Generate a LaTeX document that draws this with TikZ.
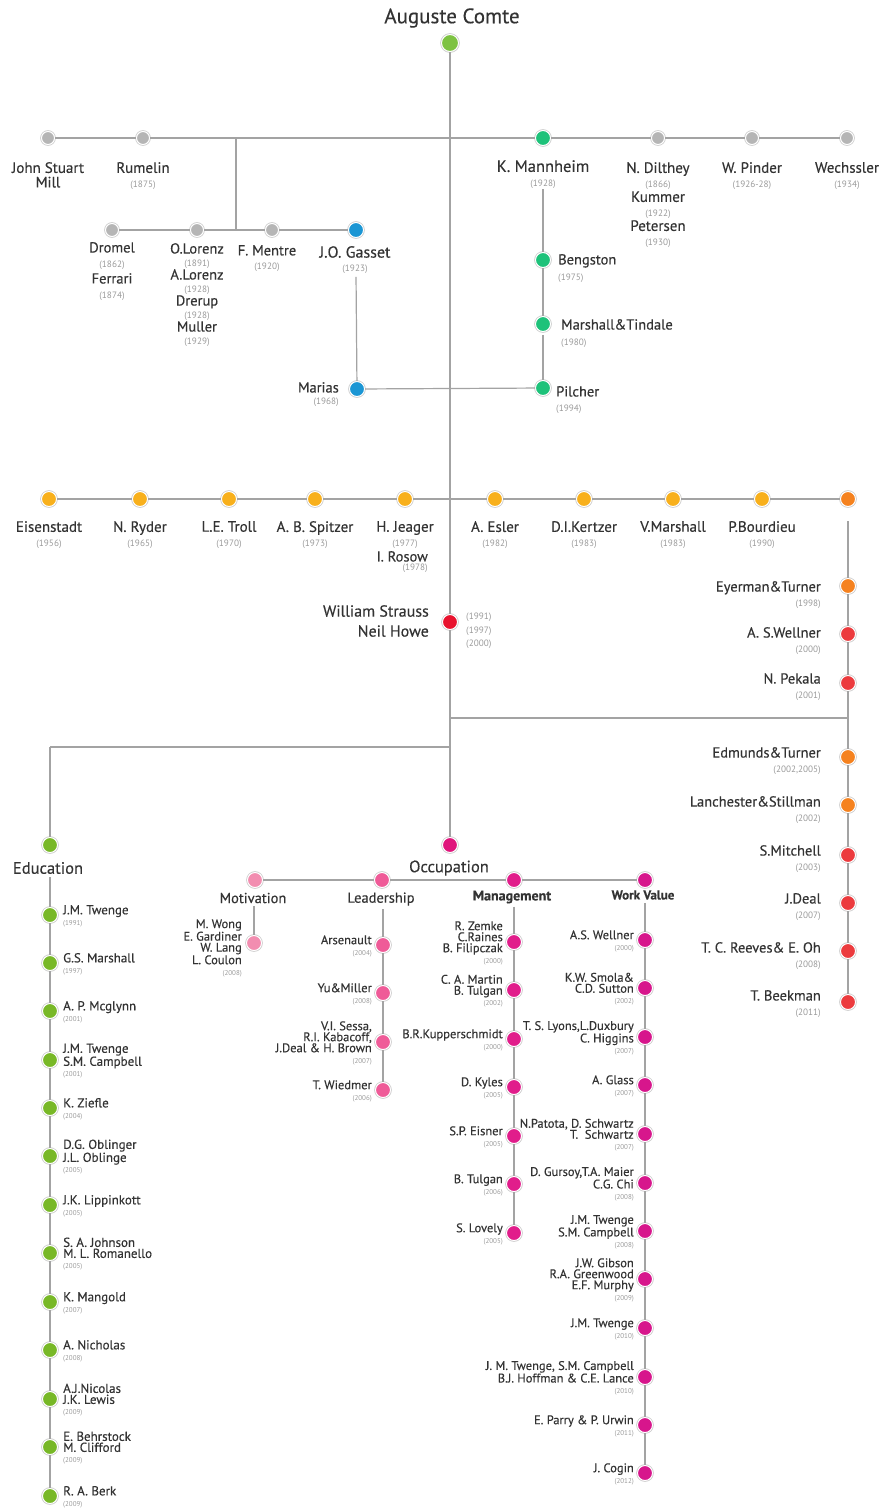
\documentclass[tikz,border=0pt]{standalone}
\usepackage{fontspec}
\setmainfont{PT Sans}[FakeBold=0.35]
\newfontfamily\yrfont{PT Sans}
\usetikzlibrary{positioning}
\definecolor{lnc}{HTML}{A3A3A3}
\definecolor{txt}{HTML}{333333}
\definecolor{yrc}{HTML}{9A9A9A}
\definecolor{greyn}{HTML}{B5B5B5}
\definecolor{comtec}{HTML}{7DC242}
\definecolor{tealc}{HTML}{1EC27A}
\definecolor{bluec}{HTML}{1B96D4}
\definecolor{yelc}{HTML}{F8B01C}
\definecolor{ornc}{HTML}{F5821F}
\definecolor{redc}{HTML}{E8132E}
\definecolor{redtc}{HTML}{EC3B3E}
\definecolor{educ}{HTML}{78B827}
\definecolor{occc}{HTML}{E0157C}
\definecolor{motc}{HTML}{F28DB0}
\definecolor{leac}{HTML}{EF5B98}
\definecolor{manc}{HTML}{E11D8B}
\definecolor{worc}{HTML}{D7168C}

\newcommand{\yr}[1]{{\yrfont\color{yrc}\fontsize{9.2}{9}\selectfont #1}}
\newcommand{\ys}[1]{{\yrfont\color{yrc}\fontsize{7}{6}\selectfont #1}}

\tikzset{
  dot/.style={circle, inner sep=0pt, minimum size=15pt, fill=#1, draw=white, line width=1pt, preaction={draw=gray!40, line width=2.6pt}},
  gdot/.style={dot=greyn, minimum size=13pt},
  ln/.style={draw=lnc, line width=1.2pt},
  nm/.style={inner sep=0pt, text=txt, align=center, font=\fontsize{15}{15}\selectfont},
  cat/.style={nm, font=\fontsize{16.5}{17}\selectfont},
  sub/.style={nm, font=\fontsize{14.5}{15}\selectfont},
  sm/.style={inner sep=0pt, text=txt, font=\fontsize{12.5}{11}\selectfont},
  rt/.style={nm, align=right, anchor=north east}
}

\begin{document}
\begin{tikzpicture}[x=1pt, y=-1pt]
	\useasboundingbox (0,0) rectangle (881,1508);
	% root
	\node[dot=comtec, minimum size=17pt] (comte) at (450,43) {};
	\node[nm, font=\fontsize{21}{22}\selectfont] (comtet) at (452,18) {Auguste Comte};
	% row 1
	\foreach \n/\x/\lab in {jsm/48/{John Stuart\\Mill}, rum/143/{Rumelin\\\yr{(1875)}}, dil/658/{N. Dilthey\\\yr{(1866)}\\Kummer\\\yr{(1922)}\\Petersen\\\yr{(1930)}}, pin/752/{W. Pinder\\\yr{(1926-28)}}, wec/847/{Wechssler\\\yr{(1934)}}}{
		\node[gdot] (\n) at (\x,138) {};
		\node[nm, anchor=north, font=\fontsize{15}{14.5}\selectfont] (\n t) at (\x,162) {\lab};
	};
	\node[dot=tealc] (mann) at (543,138) {};
	\node[nm, anchor=north, font=\fontsize{16.5}{15}\selectfont] (mannt) at (543,160) {K. Mannheim\\\yr{(1928)}};
	\coordinate (j1) at (236,138);
	\coordinate (j2) at (236,230);
	% row 2
	\node[gdot] (dro) at (112,230) {};
	\node[gdot] (olo) at (197,230) {};
	\node[gdot] (men) at (272,230) {};
	\node[dot=bluec] (gas) at (356,230) {};
	\node[nm, anchor=north, font=\fontsize{14.5}{15.5}\selectfont] (drot) at (112,242) {Dromel\\\yr{(1862)}\\Ferrari\\\yr{(1874)}};
	\node[nm, anchor=north, font=\fontsize{14.5}{13}\selectfont] (olot) at (197,243) {O.Lorenz\\\yr{(1891)}\\A.Lorenz\\\yr{(1928)}\\Drerup\\\yr{(1928)}\\Muller\\\yr{(1929)}};
	\node[nm, anchor=north, font=\fontsize{14.5}{14}\selectfont] (ment) at (267,245) {F. Mentre\\\yr{(1920)}};
	\node[nm, anchor=north, font=\fontsize{16}{14}\selectfont] (gast) at (355,246) {J.O. Gasset\\\yr{(1923)}};
	% Mannheim branch
	\node[dot=bluec] (mar) at (357,389) {};
	\node[rt, font=\fontsize{14.5}{12}\selectfont] (mart) at (339,382) {Marias\\\yr{(1968)}};
	\node[dot=tealc] (ben) at (543,260) {};
	\node[dot=tealc] (mtd) at (543,324) {};
	\node[dot=tealc] (pil) at (543,388) {};
	\node[nm, align=left, anchor=north west, font=\fontsize{14.5}{16}\selectfont] (bent) at (558,254) {Bengston\\\yr{(1975)}};
	\node[nm, align=left, anchor=north west, font=\fontsize{14.5}{16}\selectfont] (mtdt) at (561,319) {Marshall\&Tindale\\\yr{(1980)}};
	\node[nm, align=left, anchor=north west, font=\fontsize{14.5}{15}\selectfont] (pilt) at (556,386) {Pilcher\\\yr{(1994)}};
	% row 3
	\foreach \i/\x/\lab in {1/49/{Eisenstadt\\\yr{(1956)}}, 2/140/{N. Ryder\\\yr{(1965)}}, 3/229/{L.E. Troll\\\yr{(1970)}}, 4/315/{A. B. Spitzer\\\yr{(1973)}}, 5/405/{H. Jeager\\\yr{(1977)}}, 6/495/{A. Esler\\\yr{(1982)}}, 7/584/{D.I.Kertzer\\\yr{(1983)}}, 8/673/{V.Marshall\\\yr{(1983)}}, 9/762/{P.Bourdieu\\\yr{(1990)}}}{
		\node[dot=yelc] (ei\i) at (\x,499) {};
		\node[nm, anchor=north] (ei\i t) at (\x,521) {\lab};
	};
	\node[dot=ornc] (ei10) at (848,499) {};
	\node[rt, font=\fontsize{14.5}{9}\selectfont] (rosow) at (428,551) {I. Rosow\\\yr{(1978)}};
	% Strauss
	\node[dot=redc] (strauss) at (450,622) {};
	\node[rt, font=\fontsize{16}{20}\selectfont] (strausst) at (429,605) {William Strauss\\Neil Howe};
	\node[inner sep=0pt, align=left, anchor=north west, text=yrc, font=\yrfont\fontsize{9.2}{13.5}\selectfont] (strussy) at (466,613) {(1991)\\(1997)\\(2000)};
	% right column
	\foreach \i/\y/\ly/\c/\lab in {1/586/587/ornc/{Eyerman\&Turner\\\yr{(1998)}}, 2/634/633/redtc/{A. S.Wellner\\\yr{(2000)}}, 3/683/679/redtc/{N. Pekala\\\yr{(2001)}}, 4/757/753/ornc/{Edmunds\&Turner\\\yr{(2002,2005)}}, 5/805/802/ornc/{Lanchester\&Stillman\\\yr{(2002)}}, 6/855/851/redtc/{S.Mitchell\\\yr{(2003)}}, 7/903/899/redtc/{J.Deal\\\yr{(2007)}}, 8/951/948/redtc/{T. C. Reeves\& E. Oh\\\yr{(2008)}}, 9/1002/996/redtc/{T. Beekman\\\yr{(2011)}}}{
		\node[dot=\c] (r\i) at (848,\y) {};
		\node[rt, font=\fontsize{14.5}{15}\selectfont] (r\i t) at (821,\ly-6) {\lab};
	};
	\coordinate (rj) at (848,718);
	\coordinate (tj) at (450,718);
	\coordinate (ej) at (50,747);
	\coordinate (tk) at (450,747);
	% education / occupation
	\node[dot=educ] (edu) at (50,845) {};
	\node[cat] (edut) at (48,868) {Education};
	\node[dot=occc] (occ) at (450,845) {};
	\node[cat] (occt) at (449,868) {Occupation};
	\node[dot=motc] (mot) at (255,880) {};
	\node[dot=leac] (lea) at (382,880) {};
	\node[dot=manc] (man) at (514,880) {};
	\node[dot=worc] (wor) at (645,880) {};
	\node[sub] (mott) at (253,898) {Motivation};
	\node[sub] (leat) at (381,899) {Leadership};
	\node[sub, font=\fontsize{14}{15}\selectfont\bfseries] (mant) at (512,897) {Management};
	\node[sub, font=\fontsize{13}{15}\selectfont\bfseries] (wort) at (643,895) {Work Value};
	% education column
	\foreach \i/\y/\lab in {1/915/{J.M. Twenge\\\ys{(1991)}}, 2/963/{G.S. Marshall\\\ys{(1997)}}, 3/1011/{A. P. Mcglynn\\\ys{(2001)}}, 4/1060/{J.M. Twenge\\S.M. Campbell\\\ys{(2001)}}, 5/1108/{K. Ziefle\\\ys{(2004)}}, 6/1156/{D.G. Oblinger\\J.L. Oblinge\\\ys{(2005)}}, 7/1205/{J.K. Lippinkott\\\ys{(2005)}}, 8/1253/{S. A. Johnson\\M. L. Romanello\\\ys{(2005)}}, 9/1302/{K. Mangold\\\ys{(2007)}}, 10/1350/{A. Nicholas\\\ys{(2008)}}, 11/1399/{A.J.Nicolas\\J.K. Lewis\\\ys{(2009)}}, 12/1447/{E. Behrstock\\M. Clifford\\\ys{(2009)}}, 13/1496/{R. A. Berk\\\ys{(2009)}}}{
		\node[dot=educ] (ed\i) at (50,\y) {};
		\node[sm, align=left, anchor=west, font=\fontsize{13}{11}\selectfont] (ed\i t) at (63,\y+1) {\lab};
	};
	% motivation
	\node[dot=motc] (mo1) at (254,943) {};
	\node[sm, align=right, anchor=east] (mo1t) at (242,948) {M. Wong\\E. Gardiner\\W. Lang\\L. Coulon\\\ys{(2008)}};
	% leadership
	\foreach \i/\y/\lab in {1/945/{Arsenault\\\ys{(2004)}}, 2/993/{Yu\&Miller\\\ys{(2008)}}, 3/1042/{V.I. Sessa,\\R.I. Kabacoff,\\J.Deal \& H. Brown\\\ys{(2007)}}, 4/1090/{T. Wiedmer\\\ys{(2006)}}}{
		\node[dot=leac] (le\i) at (383,\y) {};
		\node[sm, align=right, anchor=east] (le\i t) at (372,\y+1) {\lab};
	};
	% management
	\foreach \i/\y/\lab in {1/942/{R. Zemke\\C.Raines\\B. Filipczak\\\ys{(2000)}}, 2/990/{C. A. Martin\\B. Tulgan\\\ys{(2002)}}, 3/1039/{B.R.Kupperschmidt\\\ys{(2000)}}, 4/1087/{D. Kyles\\\ys{(2005)}}, 5/1136/{S.P. Eisner\\\ys{(2005)}}, 6/1184/{B. Tulgan\\\ys{(2006)}}, 7/1233/{S. Lovely\\\ys{(2005)}}}{
		\node[dot=manc] (ma\i) at (514,\y) {};
		\node[sm, align=right, anchor=east] (ma\i t) at (503,\y+1) {\lab};
	};
	% work value
	\foreach \i/\y/\lab in {1/940/{A.S. Wellner\\\ys{(2000)}}, 2/988/{K.W. Smola\&\\C.D. Sutton\\\ys{(2002)}}, 3/1037/{T. S. Lyons,L.Duxbury\\C. Higgins\\\ys{(2007)}}, 4/1085/{A. Glass\\\ys{(2007)}}, 5/1134/{N.Patota, D. Schwartz\\T.\ \ Schwartz\\\ys{(2007)}}, 6/1183/{D. Gursoy,T.A. Maier\\C.G. Chi\\\ys{(2008)}}, 7/1231/{J.M. Twenge\\S.M. Campbell\\\ys{(2008)}}, 8/1279/{J.W. Gibson\\R.A. Greenwood\\E.F. Murphy\\\ys{(2009)}}, 9/1328/{J.M. Twenge\\\ys{(2010)}}, 10/1377/{J. M. Twenge, S.M. Campbell\\B.J. Hoffman \& C.E. Lance\\\ys{(2010)}}, 11/1425/{E. Parry \& P. Urwin\\\ys{(2011)}}, 12/1473/{J. Cogin\\\ys{(2012)}}}{
		\node[dot=worc] (wo\i) at (645,\y) {};
		\node[sm, align=right, anchor=east] (wo\i t) at (634,\y+1) {\lab};
	};
	% connectors
	\draw[ln] (comte) -- (strauss) -- (occ);
	\draw[ln] (jsm) -- (rum) -- (j1) -- (mann) -- (dil) -- (pin) -- (wec);
	\draw[ln] (j1) -- (j2);
	\draw[ln] (dro) -- (olo) -- (men) -- (gas);
	\draw[ln, shorten <=3pt] (gast.south -| gas) -- (mar);
	\draw[ln] (mar) -- (pil);
	\draw[ln, shorten <=3pt] (mannt.south -| mann) -- (ben) -- (mtd) -- (pil);
	\foreach \i [count=\j from 2] in {1,...,9}{\draw[ln] (ei\i) -- (ei\j);};
	\draw[ln, shorten <=14pt] (ei10) -- (r1);
	\draw[ln] (r1) -- (r2) -- (r3) -- (rj) -- (r4);
	\foreach \i [count=\j from 5] in {4,...,8}{\draw[ln] (r\i) -- (r\j);};
	\draw[ln] (tj) -- (rj);
	\draw[ln] (ej) -- (tk);
	\draw[ln] (ej) -- (edu);
	\draw[ln] (mot) -- (lea) -- (man) -- (wor);
	\draw[ln, shorten <=3pt] (edut.south -| edu) -- (ed1);
	\foreach \i [count=\j from 2] in {1,...,12}{\draw[ln] (ed\i) -- (ed\j);};
	\draw[ln, shorten <=3pt] (mott.south -| mo1) -- (mo1);
	\draw[ln, shorten <=3pt] (leat.south -| le1) -- (le1);
	\foreach \i [count=\j from 2] in {1,...,3}{\draw[ln] (le\i) -- (le\j);};
	\draw[ln, shorten <=3pt] (mant.south -| ma1) -- (ma1);
	\foreach \i [count=\j from 2] in {1,...,6}{\draw[ln] (ma\i) -- (ma\j);};
	\draw[ln, shorten <=3pt] (wort.south -| wo1) -- (wo1);
	\foreach \i [count=\j from 2] in {1,...,11}{\draw[ln] (wo\i) -- (wo\j);};
\end{tikzpicture}
\end{document}
